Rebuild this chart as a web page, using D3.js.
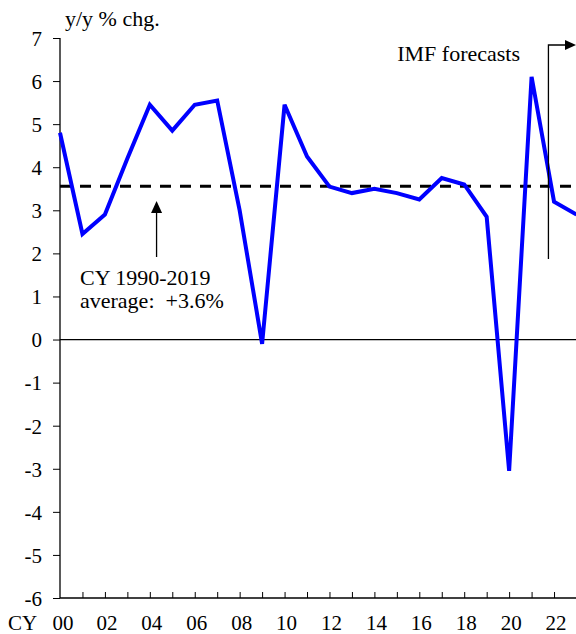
<!DOCTYPE html>
<html>
<head>
<meta charset="utf-8">
<script src="https://cdn.jsdelivr.net/npm/d3@7"></script>
<style>
  body { margin: 0; background: #fff; }
  svg text { font-family: "Liberation Serif", "DejaVu Serif", serif !important; fill: #000; }
</style>
</head>
<body>
<div id="chart-area"></div>
<script>
// data
const years = [2000, 2001, 2002, 2003, 2004, 2005, 2006, 2007, 2008, 2009, 2010, 2011,
               2012, 2013, 2014, 2015, 2016, 2017, 2018, 2019, 2020, 2021, 2022, 2023]
const growth = [4.8, 2.45, 2.9, 4.2, 5.45, 4.85, 5.45, 5.55, 3.0, -0.1, 5.45, 4.25,
                3.55, 3.4, 3.5, 3.4, 3.25, 3.75, 3.6, 2.85, -3.05, 6.1, 3.2, 2.9]
const yTicks = [-6, -5, -4, -3, -2, -1, 0, 1, 2, 3, 4, 5, 6, 7]
const xLabelYears = [2000, 2002, 2004, 2006, 2008, 2010, 2012, 2014, 2016, 2018, 2020, 2022]
const average = 3.56
const forecastStart = 2021.75

const W = 576, H = 634
const MARGIN = { LEFT: 60, RIGHT: 0, TOP: 38, BOTTOM: 36 }
const FONT = "'Liberation Serif', 'DejaVu Serif', serif"

const svg = d3.select("#chart-area").append("svg")
    .attr("width", W)
    .attr("height", H)
    .style("font-family", FONT)

// scales
const x = d3.scaleLinear().domain([2000, 2023]).range([MARGIN.LEFT, 576.5])
const y = d3.scaleLinear().domain([-6, 7]).range([H - MARGIN.BOTTOM, MARGIN.TOP])

// y axis
const yAxis = svg.append("g")
    .attr("transform", `translate(${MARGIN.LEFT}, 0)`)
    .call(d3.axisLeft(y).tickValues(yTicks).tickSize(7).tickPadding(11).tickFormat(d => String(d)))
yAxis.attr("font-family", FONT)
yAxis.select(".domain").attr("d", `M0,${y(-6)}V${y(7)}`).attr("stroke-width", 1.3)
yAxis.selectAll("text")
    .attr("font-size", "21px")
    .attr("dy", "0.35em")

// x axis (ticks point up into the plot)
const xAxis = svg.append("g")
    .attr("transform", `translate(0, ${y(-6)})`)
    .call(d3.axisTop(x).tickValues(years.slice(1)).tickSize(6).tickFormat(""))
xAxis.select(".domain").attr("d", `M${MARGIN.LEFT},0H${W}`).attr("stroke-width", 1.3)

svg.append("g").selectAll("text")
    .data(xLabelYears)
    .join("text")
    .attr("x", d => x(d) + (d === 2000 ? 3 : 2))
    .attr("y", 630)
    .attr("text-anchor", "middle")
    .attr("font-size", "21px")
    .text(d => d3.format("02d")(d % 100))

svg.append("text")
    .attr("x", 8)
    .attr("y", 630)
    .attr("font-size", "21px")
    .text("CY")

// axis title
svg.append("text")
    .attr("x", 65)
    .attr("y", 26)
    .attr("font-size", "22px")
    .text("y/y % chg.")

// zero line
svg.append("line")
    .attr("x1", MARGIN.LEFT).attr("x2", W)
    .attr("y1", y(0)).attr("y2", y(0))
    .attr("stroke", "#000")
    .attr("stroke-width", 1.2)

// average line
svg.append("line")
    .attr("x1", MARGIN.LEFT).attr("x2", W)
    .attr("y1", y(average)).attr("y2", y(average))
    .attr("stroke", "#000")
    .attr("stroke-width", 3)
    .attr("stroke-dasharray", "11,9")

// growth line
const line = d3.line()
    .x((d, i) => x(years[i]))
    .y(d => y(d))

svg.append("path")
    .attr("fill", "none")
    .attr("stroke", "#0000ff")
    .attr("stroke-width", 4)
    .attr("stroke-linejoin", "miter")
    .attr("d", line(growth))

// average annotation arrow
const ax = x(2004.3)
svg.append("line")
    .attr("x1", ax).attr("x2", ax)
    .attr("y1", 257).attr("y2", 210)
    .attr("stroke", "#000")
    .attr("stroke-width", 1.3)
svg.append("path")
    .attr("d", `M${ax},201L${ax - 5.5},213L${ax + 5.5},213Z`)
    .attr("fill", "#000")

svg.append("text")
    .attr("x", 80)
    .attr("y", 285)
    .attr("font-size", "22px")
    .text("CY 1990-2019")
svg.append("text")
    .attr("x", 80)
    .attr("y", 308)
    .attr("font-size", "22px")
    .style("white-space", "pre")
    .text("average:  +3.6%")

// forecast marker
const fx = x(forecastStart)
svg.append("path")
    .attr("d", `M${fx},259V45H567`)
    .attr("fill", "none")
    .attr("stroke", "#000")
    .attr("stroke-width", 1.3)
svg.append("path")
    .attr("d", `M576,45L565,40L565,50Z`)
    .attr("fill", "#000")

svg.append("text")
    .attr("x", 520)
    .attr("y", 61)
    .attr("text-anchor", "end")
    .attr("font-size", "22px")
    .text("IMF forecasts")
</script>
</body>
</html>
